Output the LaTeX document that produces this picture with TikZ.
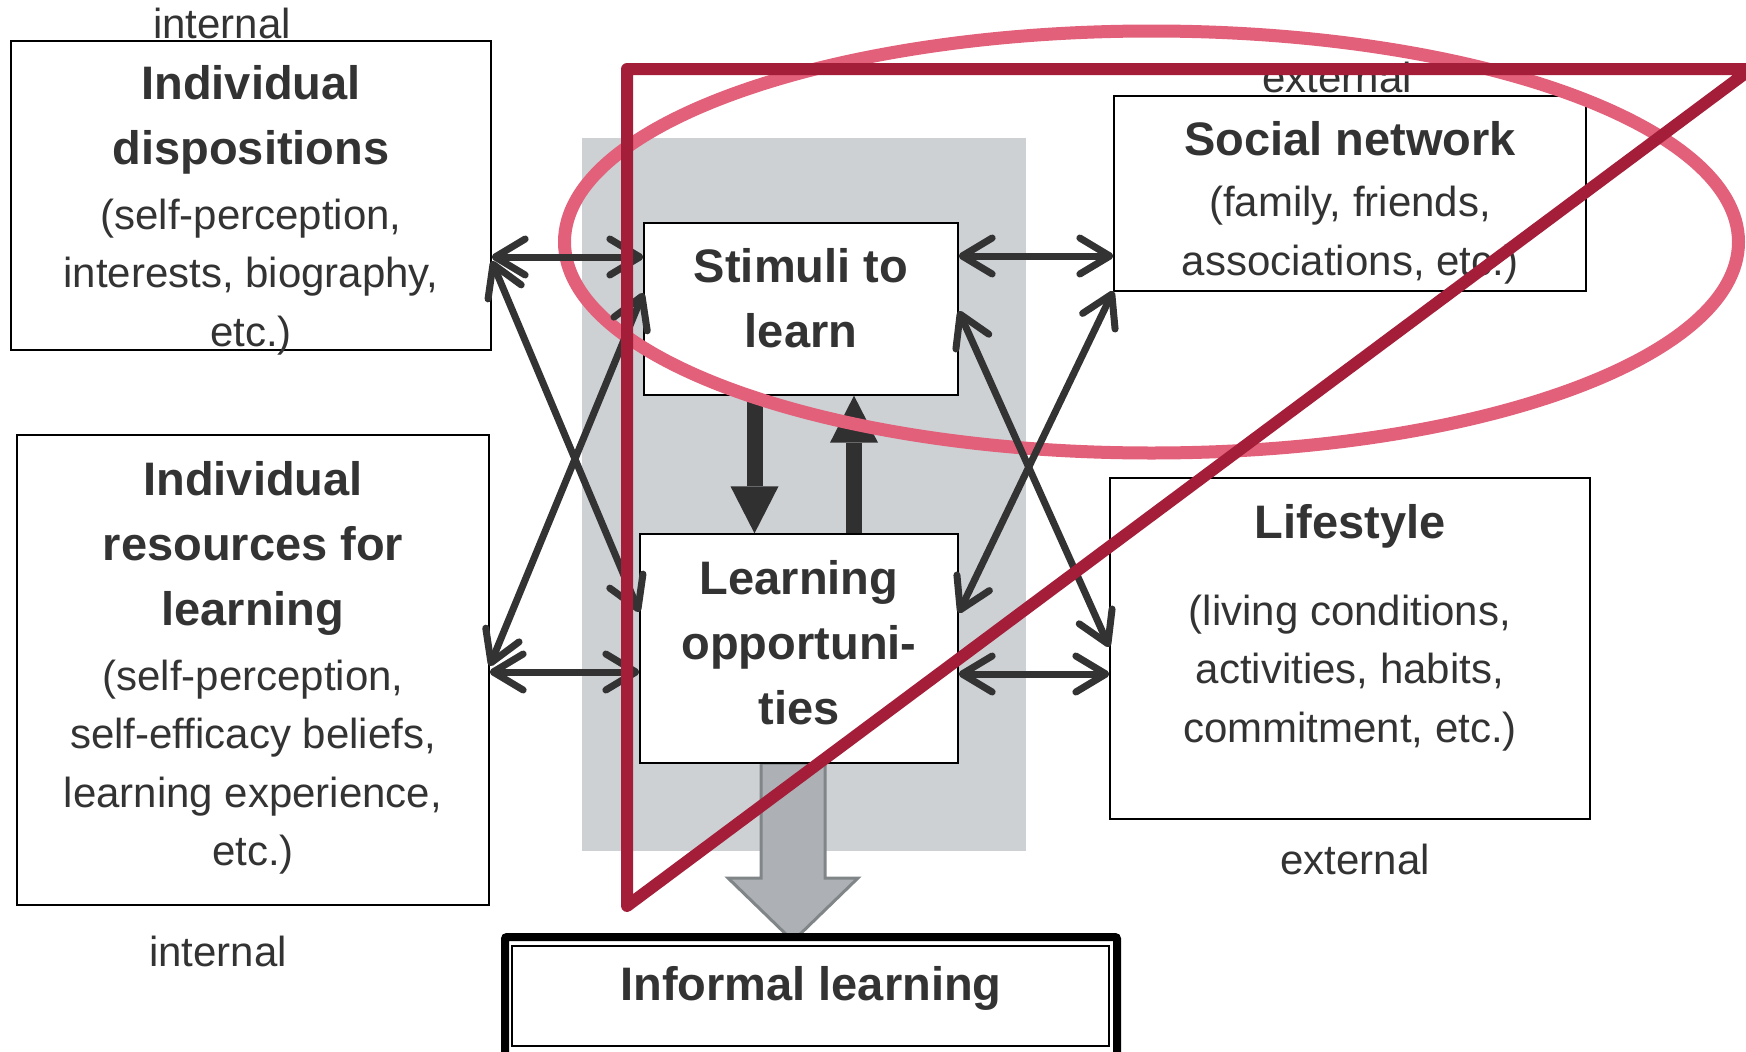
\documentclass[tikz,border=0pt]{standalone}
\usepackage{fontspec}
\setmainfont{Liberation Sans}
\usepackage{xcolor}
\usetikzlibrary{arrows.meta}
\newcommand{\hd}[1]{{\bfseries\fontsize{47}{65}\selectfont #1}}
\newcommand{\st}{\rule{0pt}{40pt}}

\begin{document}
\begin{tikzpicture}[x=1pt,y=1pt,yscale=-1,xscale=1,
        box/.style={draw=black, line width=1.3pt, fill=white, inner sep=0pt},
        txt/.style={text={rgb, 255:red, 51; green, 51; blue, 51}, inner sep=0pt, align=center, font=\fontsize{42}{58.5}\selectfont},
        dbl/.style={draw={rgb, 255:red, 51; green, 51; blue, 51}, line width=7pt, >={Straight Barb[length=30pt,width=36pt,round]}, <->},
        fat/.style={draw={rgb, 255:red, 48; green, 48; blue, 48}, line width=16pt, -{Triangle[length=47pt,width=48pt,line width=0pt]}},
        bigarr/.style={fill={rgb, 255:red, 173; green, 177; blue, 181}, draw={rgb, 255:red, 128; green, 133; blue, 136}, line width=3pt},
        pinkmark/.style={draw={rgb, 255:red, 226; green, 96; blue, 122}, line width=13pt},
        redmark/.style={draw={rgb, 255:red, 164; green, 30; blue, 58}, line width=12pt, line join=round}
        ]
        \useasboundingbox (0,0) rectangle (1746,1052);
        
        %Shape: Rectangle (grey field)
        \fill [fill={rgb, 255:red, 205; green, 209; blue, 212}] (582,138) rectangle (1026,851);
        
        %Shape: Block Arrow
        \draw [bigarr] (761,763) -- (761,878) -- (728,878) -- (793,941) -- (858,878) -- (825,878) -- (825,763) -- cycle;
        
        %Shape: Rectangles
        \node [box, minimum width=480pt, minimum height=309pt] (disp) at (251,195.5) {};
        \node [box, minimum width=472pt, minimum height=470pt] (res) at (253,670) {};
        \node [box, minimum width=314pt, minimum height=172pt] (stim) at (801,309) {};
        \node [box, minimum width=318pt, minimum height=229pt] (opp) at (799,648.5) {};
        \node [box, minimum width=472pt, minimum height=195pt] (soc) at (1350,193.5) {};
        \node [box, minimum width=480pt, minimum height=341pt] (life) at (1350,648.5) {};
        \node [box, line width=8pt, minimum width=612pt, minimum height=119pt, rounded corners=2pt] (infout) at (811,996.5) {};
        \node [box, line width=2pt, minimum width=597pt, minimum height=100pt] (inf) at (810.5,995.5) {};
        
        % Text Node
        \node [txt, anchor=north] (dispText) at (251,59) {\st\hd{Individual}\\[6.5pt]\hd{dispositions}\\[6.5pt](self-perception,\\interests, biography,\\etc.)};
        \node [txt, anchor=north] (resText) at (253,455) {\st\hd{Individual}\\[6.5pt]\hd{resources for}\\[6.5pt]\hd{learning}\\[6.5pt](self-perception,\\self-efficacy beliefs,\\learning experience,\\etc.)};
        \node [txt, anchor=north] (stimText) at (801,242) {\st\hd{Stimuli to}\\[6.5pt]\hd{learn}};
        \node [txt, anchor=north] (oppText) at (799,554) {\st\hd{Learning}\\[6.5pt]\hd{opportuni-}\\[6.5pt]\hd{ties}};
        \node [txt, anchor=north] (socText) at (1350,115) {\st\hd{Social network}\\[3pt](family, friends,\\associations, etc.)};
        \node [txt, anchor=north] (lifeText) at (1350,498) {\st\hd{Lifestyle}\\[28.5pt](living conditions,\\activities, habits,\\commitment, etc.)};
        \node [txt, anchor=base] (infText) at (811,1000) {\hd{Informal learning}};
        
        % Text Node
        \node [txt, anchor=base] (intTop) at (222,38) {internal};
        \node [txt, anchor=base] (intBot) at (218,966) {internal};
        \node [txt, anchor=base] (extTop) at (1337,92) {external};
        \node [txt, anchor=base] (extBot) at (1355,874) {external};
        
        %Straight Lines (thick)
        \draw [fat] (stim.south -| 754.5,0) -- (opp.north -| 754.5,0);
        \draw [fat] (opp.north -| 854,0) -- (stim.south -| 854,0);
        
        %Shape: Ellipse
        \draw [pinkmark] (1151.5,242) ellipse [x radius=587, y radius=211];
        
        %Straight Lines
        \draw [dbl] (disp.east |- 0,257) -- (stim.west |- 0,257);
        \draw [dbl] (stim.east |- 0,256) -- (soc.west |- 0,256);
        \draw [dbl] (res.east |- 0,672) -- (opp.west |- 0,672);
        \draw [dbl] (opp.east |- 0,674) -- (life.west |- 0,674);
        \draw [dbl] (disp.east |- 0,261) -- (opp.west |- 0,612);
        \draw [dbl] (res.east |- 0,666) -- (stim.west |- 0,293);
        \draw [dbl] (stim.east |- 0,311) -- (life.west |- 0,647);
        \draw [dbl] (opp.east |- 0,613) -- (soc.west |- 0,291);
        
        %Shape: Triangle
        \draw [redmark] (627,69) -- (1751,69) -- (627,906) -- cycle;
        
\end{tikzpicture}
\end{document}
